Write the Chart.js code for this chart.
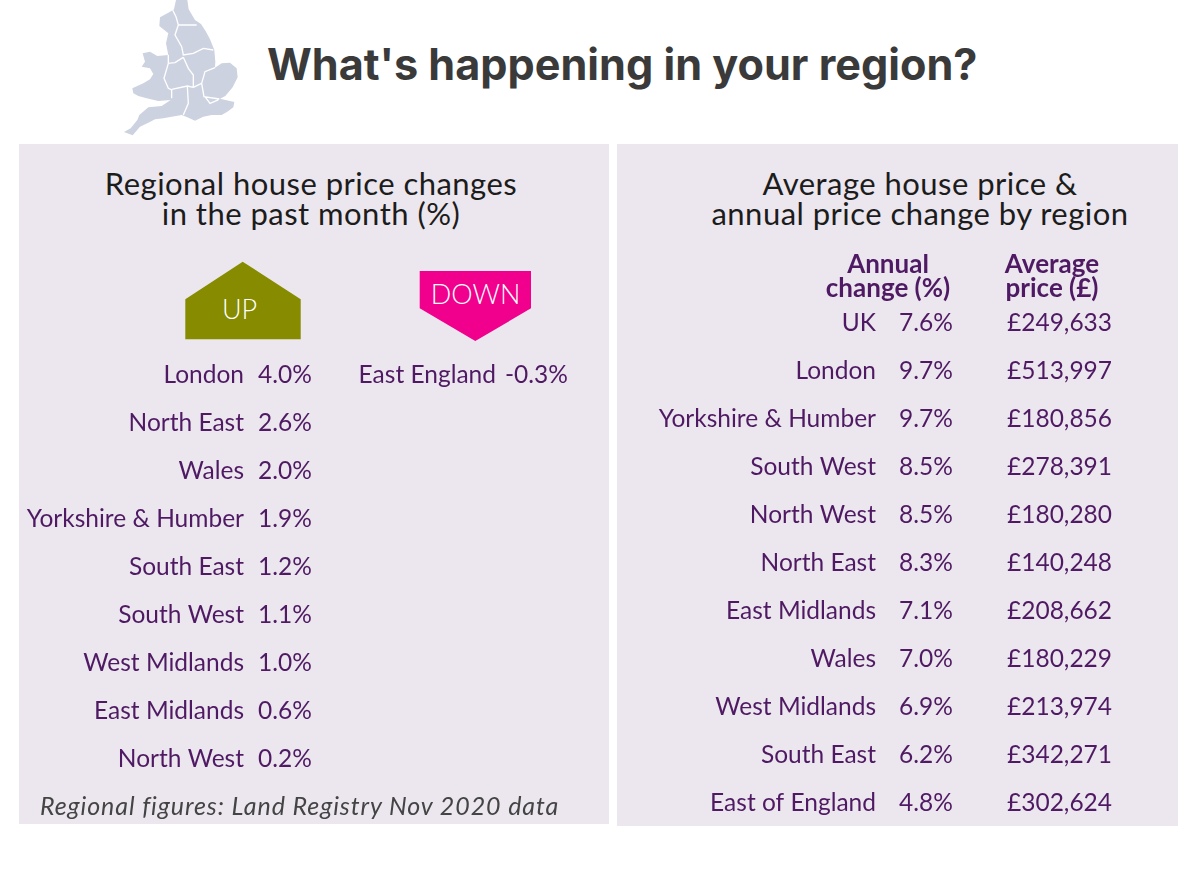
<!DOCTYPE html>
<html>
<head>
<meta charset="utf-8">
<title>What's happening in your region?</title>
<script src="https://cdn.jsdelivr.net/npm/chart.js@4"></script>
<style>
html, body { margin: 0; padding: 0; background: #fff; overflow: hidden; }
#page { position: relative; width: 1200px; height: 870px; font-family: Lato, sans-serif; }
.panel { position: absolute; background: #ece7ee; }
canvas { position: absolute; top: 0; }
#art { position: absolute; left: 0; top: 0; }
#heading { position: absolute; left: 267px; top: 36px; margin: 0; font: 700 43.2px/56px Inter, sans-serif; color: #3a3a3a; white-space: nowrap; }
#note { position: absolute; left: 40px; top: 790px; font: italic 25px/30px Lato, sans-serif; letter-spacing: 0.9px; color: #444; white-space: nowrap; }
.panel-title { position: absolute; top: 168px; width: 600px; text-align: center; font: 31px/30px Lato, sans-serif; letter-spacing: 0.47px; color: #1c1c1c; white-space: nowrap; }
</style>
</head>
<body>
<div id="page">
  <div class="panel" style="left:19px;top:144px;width:590px;height:680px"></div>
  <div class="panel" style="left:617px;top:144px;width:561px;height:682px"></div>
  <svg id="art" width="1200" height="870">
    <g transform="translate(100,0) scale(0.3333)">
      <path fill="#cdd2e1" d="M228,0 L262,0 L266,28 L285,60 L303,72 L318,95 L330,118 L343,150 L346,185 L345,203 L365,190 L390,188 L410,205 L413,232 L398,262 L376,288 L360,296 L403,306 L400,322 L382,335 L365,345 L335,345 L310,350 L285,362 L262,352 L245,345 L215,350 L190,355 L165,358 L145,368 L120,380 L98,406 L72,396 L92,385 L112,360 L118,345 L145,322 L185,318 L212,300 L175,303 L140,295 L115,288 L100,280 L97,265 L130,250 L150,238 L160,222 L150,205 L125,200 L135,185 L128,160 L150,155 L172,168 L205,165 L198,130 L205,100 L190,88 L178,78 L180,52 L205,38 L222,28 Z"/>
      <path fill="none" stroke="#fff" stroke-width="4" d="M218,30 L228,50 L235,75 L290,75 M235,75 L225,105 L245,140 L250,165 L280,160 L310,145 L340,150 M250,172 L225,188 L205,190 L205,165 M205,190 L192,235 L205,265 L215,270 L215,295 M250,172 L265,205 L280,225 L280,262 M215,268 L262,258 L280,262 M262,258 L265,310 L250,345 M345,203 L315,215 L305,250 L280,262 M305,250 L312,290 L358,297 M315,290 L330,310 L355,300"/>
    </g>
    <path fill="#868b00" d="M185.3,299.3 L242.7,261.7 L300.7,299.3 L300.7,339.3 L185.3,339.3 Z"/>
    <text x="239.5" y="318.5" text-anchor="middle" fill="#fff" font-family="Lato" font-weight="300" font-size="27">UP</text>
    <path fill="#f0008c" d="M419.7,271 L531,271 L531,308.3 L475.3,341 L419.7,308.3 Z"/>
    <text x="475.5" y="304" text-anchor="middle" fill="#fff" font-family="Lato" font-weight="300" font-size="27">DOWN</text>
  </svg>
  <h1 id="heading">What's happening in your region?</h1>
  <div class="panel-title" style="left:11px">Regional house price changes<br>in the past month (%)</div>
  <div class="panel-title" style="left:620px">Average house price &amp;<br>annual price change by region</div>
  <canvas id="monthChart" width="622" height="870" style="left:0"></canvas>
  <canvas id="annualChart" width="561" height="870" style="left:617px"></canvas>
  <div id="note">Regional figures: Land Registry Nov 2020 data</div>
</div>
<script>
// month on month
var upRegions = ["London", "North East", "Wales", "Yorkshire & Humber", "South East", "South West", "West Midlands", "East Midlands", "North West"];
var upValues = [4.0, 2.6, 2.0, 1.9, 1.2, 1.1, 1.0, 0.6, 0.2];
var downRegions = ["East England"];
var downValues = [-0.3];

// year on year + price
var annualRegions = ["UK", "London", "Yorkshire & Humber", "South West", "North West", "North East", "East Midlands", "Wales", "West Midlands", "South East", "East of England"];
var annualChange = [7.6, 9.7, 9.7, 8.5, 8.5, 8.3, 7.1, 7.0, 6.9, 6.2, 4.8];
var averagePrice = [249633, 513997, 180856, 278391, 180280, 140248, 208662, 180229, 213974, 342271, 302624];
var annualColumns = ["Annual change (%)", "Average price (£)"];
var annualHeaders = [["Annual", "change (%)"], ["Average", "price (£)"]];

var PURPLE = "#4f1a63";
var FONT = "Lato, sans-serif";
var ROW_SIZE = 24.5;

function pct(v) { return v.toFixed(1) + "%"; }
function pounds(v) { return "£" + v.toLocaleString("en-GB"); }

// chart.js has no table, so write each point's value beside its position
var valueText = {
    id: "valueText",
    afterDatasetsDraw: function(chart) {
        var ctx = chart.ctx;
        ctx.save();
        ctx.font = ROW_SIZE + "px " + FONT;
        ctx.fillStyle = PURPLE;
        ctx.textBaseline = "middle";
        chart.data.datasets.forEach(function(ds, d) {
            chart.getDatasetMeta(d).data.forEach(function(pt, i) {
                ctx.textAlign = "left";
                ctx.fillText(ds.format(ds.values[i]), pt.x + (ds.dx || 0), pt.y);
                if (ds.names) {
                    ctx.textAlign = "right";
                    ctx.fillText(ds.names[i], pt.x - 9, pt.y);
                }
            });
        });
        ctx.restore();
    }
};

function points(col, rows, count) {
    var out = [];
    for (var i = 0; i < count; i++) out.push({x: col, y: rows[i]});
    return out;
}

function panel_chart(canvas_name, cfg) {
    new Chart(document.getElementById(canvas_name), {
        type: "scatter",
        plugins: [valueText],
        data: { datasets: cfg.datasets },
        options: {
            responsive: false,
            animation: false,
            layout: { autoPadding: false, padding: { left: 0, top: cfg.top, right: cfg.right, bottom: cfg.bottom } },
            elements: { point: { radius: 0 } },
            plugins: {
                legend: { display: false },
                tooltip: { enabled: false }
            },
            scales: {
                x: cfg.x,
                y: {
                    type: "category",
                    labels: cfg.rows,
                    offset: false,
                    border: { display: false },
                    grid: { display: false, drawTicks: false },
                    afterFit: function(scale) { scale.width = cfg.axisWidth; },
                    ticks: { autoSkip: false, padding: cfg.tickGap, color: PURPLE, font: { family: FONT, size: ROW_SIZE } }
                }
            }
        }
    });
}

panel_chart("monthChart", {
    top: 375,
    right: 117,
    bottom: 111,
    axisWidth: 258,
    tickGap: 14,
    rows: upRegions,
    x: { type: "category", labels: ["Up", "Down"], offset: false, display: false },
    datasets: [
        { data: points("Up", upRegions, upRegions.length), values: upValues, format: pct },
        { data: points("Down", upRegions, downRegions.length), values: downValues, format: pct, names: downRegions }
    ]
});

panel_chart("annualChart", {
    top: 254,
    right: 126,
    bottom: 67,
    axisWidth: 271,
    tickGap: 12,
    rows: annualRegions,
    x: {
        type: "category",
        position: "top",
        labels: annualColumns,
        offset: false,
        border: { display: false },
        grid: { display: false, drawTicks: false },
        afterFit: function(scale) { scale.height = 69; },
        ticks: {
            autoSkip: false,
            maxRotation: 0,
            padding: 22,
            color: PURPLE,
            font: { family: FONT, size: 26, weight: "bold", lineHeight: "24px" },
            callback: function(value, i) { return annualHeaders[i]; }
        }
    },
    datasets: [
        { data: points(annualColumns[0], annualRegions, annualRegions.length), values: annualChange, format: pct, dx: 11 },
        { data: points(annualColumns[1], annualRegions, annualRegions.length), values: averagePrice, format: pounds, dx: -45 }
    ]
});
</script>
</body>
</html>
